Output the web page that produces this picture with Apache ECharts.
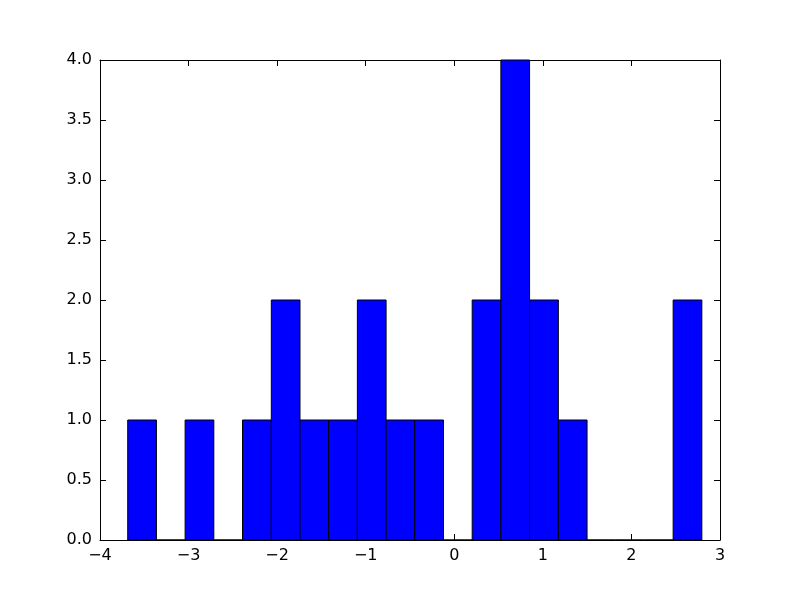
<!DOCTYPE html>
<html>
<head>
<meta charset="utf-8">
<script src="https://cdn.jsdelivr.net/npm/echarts@6/dist/echarts.min.js"></script>
<style>html,body{margin:0;padding:0;background:#fff}#c{width:800px;height:600px}</style>
</head>
<body>
<div id="c"></div>
<script>
const binEdges = [-3.687, -3.363, -3.039, -2.715, -2.391, -2.066, -1.742, -1.418, -1.094, -0.770, -0.446, -0.122, 0.202, 0.526, 0.850, 1.175, 1.499, 1.823, 2.147, 2.471, 2.795];
const counts = [1, 0, 1, 0, 1, 2, 1, 1, 2, 1, 1, 0, 2, 4, 2, 1, 0, 0, 0, 2];
const xTicks = [-4, -3, -2, -1, 0, 1, 2, 3];
const yTicks = [0, 0.5, 1, 1.5, 2, 2.5, 3, 3.5, 4];

const data = counts.map((c, i) => [binEdges[i], binEdges[i + 1], c]);
const fontFamily = 'DejaVu Sans';
const minus = s => String(s).replace('-', '\u2212');

const chart = echarts.init(document.getElementById('c'), null, {renderer: 'canvas'});
const axisCommon = {
  axisLine: {show: true, onZero: false, lineStyle: {color: '#000', width: 1}},
  splitLine: {show: false},
  axisTick: {show: true, inside: true, length: 6, lineStyle: {color: '#000', width: 1}}
};
chart.setOption({
  animation: false,
  grid: {left: 100, right: 80, top: 60, bottom: 60, containLabel: false},
  xAxis: [
    Object.assign({}, axisCommon, {
      type: 'value', min: xTicks[0], max: xTicks[xTicks.length - 1], interval: 1, position: 'bottom',
      axisLabel: {color: '#000', fontSize: 16, fontFamily, margin: 8, formatter: v => minus(v)}
    }),
    Object.assign({}, axisCommon, {
      type: 'value', min: xTicks[0], max: xTicks[xTicks.length - 1], interval: 1, position: 'top',
      axisLabel: {show: false}
    })
  ],
  yAxis: [
    Object.assign({}, axisCommon, {
      type: 'value', min: yTicks[0], max: yTicks[yTicks.length - 1], interval: 0.5, position: 'left',
      axisLabel: {color: '#000', fontSize: 16, fontFamily, margin: 8, formatter: v => v.toFixed(1)}
    }),
    Object.assign({}, axisCommon, {
      type: 'value', min: yTicks[0], max: yTicks[yTicks.length - 1], interval: 0.5, position: 'right',
      axisLabel: {show: false}
    })
  ],
  series: [{
    type: 'custom',
    xAxisIndex: 0, yAxisIndex: 0,
    data: data,
    encode: {x: [0, 1], y: 2},
    renderItem: function (params, api) {
      const s = api.coord([api.value(0), 0]);
      const e = api.coord([api.value(1), api.value(2)]);
      return {
        type: 'rect',
        shape: {x: s[0], y: e[1], width: e[0] - s[0], height: s[1] - e[1]},
        style: {fill: '#0000ff', stroke: '#000', lineWidth: 1}
      };
    }
  }]
});
</script>
</body>
</html>
